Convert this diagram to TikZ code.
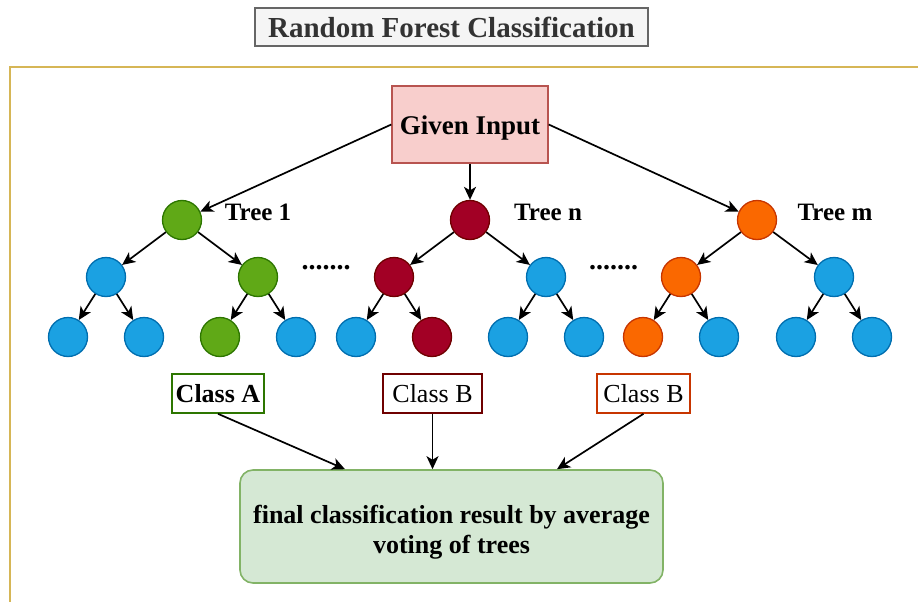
\documentclass[tikz,border=0pt]{standalone}
\usepackage{fontspec}
\setmainfont{Liberation Serif}
\usetikzlibrary{positioning,calc,arrows.meta}
\definecolor{leafblue}{HTML}{1BA1E2}
\definecolor{leafblueb}{HTML}{006EAF}
\definecolor{treegreen}{HTML}{60A917}
\definecolor{treegreenb}{HTML}{2D7600}
\definecolor{treered}{HTML}{A20025}
\definecolor{treeredb}{HTML}{6F0000}
\definecolor{treeorange}{HTML}{FA6800}
\definecolor{treeorangeb}{HTML}{C73500}
\definecolor{inputfill}{HTML}{F8CECC}
\definecolor{inputdraw}{HTML}{B85450}
\definecolor{resultfill}{HTML}{D5E8D4}
\definecolor{resultdraw}{HTML}{82B366}
\definecolor{framecol}{HTML}{D6B656}
\tikzset{
  vertex/.style={circle, draw, line width=1.3pt, minimum size=39pt, inner sep=0pt},
  bluev/.style={vertex, fill=leafblue, draw=leafblueb},
  greenv/.style={vertex, fill=treegreen, draw=treegreenb},
  redv/.style={vertex, fill=treered, draw=treeredb},
  orangev/.style={vertex, fill=treeorange, draw=treeorangeb},
  link/.style={line width=1.7pt, -{Stealth[length=13pt,width=12pt,inset=3.5pt]}},
  treelabel/.style={font=\bfseries\fontsize{25}{29}\selectfont},
  classbox/.style={draw, rectangle, fill=white, line width=1.6pt, minimum height=39pt, inner sep=0pt, font=\fontsize{26}{30}\selectfont}
}
\begin{document}
\begin{tikzpicture}[x=1pt,y=1pt]
\useasboundingbox (0,0) rectangle (918,-602);
\draw [framecol, line width=1.6pt](10,-602)--(10,-67)--(918,-67);
\node (title)[draw=black!60, fill=black!4, line width=1.4pt, rectangle, minimum width=393pt, minimum height=38pt, inner sep=0pt, font=\bfseries\fontsize{29}{33}\selectfont, text=black!80] at (451.5,-27) {Random Forest Classification};
\node (input)[draw=inputdraw, fill=inputfill, line width=1.4pt, rectangle, minimum width=156pt, minimum height=77pt, inner sep=0pt, font=\bfseries\fontsize{27}{31}\selectfont] at (470,-124.5) {\rule{0pt}{25pt}Given Input};

% tree 1
\node (tn)[redv, on grid, below=95.5pt of input]{};
\node (t1)[greenv, on grid, left=288pt of tn]{};
\node (tm)[orangev, on grid, right=287pt of tn]{};
\node (t1l)[bluev, on grid, below left=57pt and 76pt of t1]{};
\node (t1r)[greenv, on grid, below right=57pt and 76pt of t1]{};
\node (t1ll)[bluev, on grid, below left=60pt and 38pt of t1l]{};
\node (t1lr)[bluev, on grid, below right=60pt and 38pt of t1l]{};
\node (t1rl)[greenv, on grid, below left=60pt and 38pt of t1r]{};
\node (t1rr)[bluev, on grid, below right=60pt and 38pt of t1r]{};
% tree n
\node (tnl)[redv, on grid, below left=57pt and 76pt of tn]{};
\node (tnr)[bluev, on grid, below right=57pt and 76pt of tn]{};
\node (tnll)[bluev, on grid, below left=60pt and 38pt of tnl]{};
\node (tnlr)[redv, on grid, below right=60pt and 38pt of tnl]{};
\node (tnrl)[bluev, on grid, below left=60pt and 38pt of tnr]{};
\node (tnrr)[bluev, on grid, below right=60pt and 38pt of tnr]{};
% tree m
\node (tml)[orangev, on grid, below left=57pt and 76pt of tm]{};
\node (tmr)[bluev, on grid, below right=57pt and 77pt of tm]{};
\node (tmll)[orangev, on grid, below left=60pt and 38pt of tml]{};
\node (tmlr)[bluev, on grid, below right=60pt and 38pt of tml]{};
\node (tmrl)[bluev, on grid, below left=60pt and 38pt of tmr]{};
\node (tmrr)[bluev, on grid, below right=60pt and 38pt of tmr]{};

\node (lab1)[treelabel, on grid, above right=8pt and 76pt of t1]{Tree 1};
\node (labn)[treelabel, on grid, above right=8pt and 78pt of tn]{Tree n};
\node (labm)[treelabel, on grid, above right=8pt and 78pt of tm]{Tree m};
\node (dots1)[anchor=base, font=\bfseries\fontsize{28}{30}\selectfont] at ($(t1r)!0.5!(tnl)+(0,8)$) {.......};
\node (dots2)[anchor=base, font=\bfseries\fontsize{28}{30}\selectfont] at ($(tnr)!0.5!(tml)+(0,8)$) {.......};

\draw [link](input.west)--(t1);
\draw [link](input.south)--(tn);
\draw [link](input.east)--(tm);
\draw [link](t1)--(t1l);
\draw [link](t1)--(t1r);
\draw [link](t1l)--(t1ll);
\draw [link](t1l)--(t1lr);
\draw [link](t1r)--(t1rl);
\draw [link](t1r)--(t1rr);
\draw [link](tn)--(tnl);
\draw [link](tn)--(tnr);
\draw [link](tnl)--(tnll);
\draw [link](tnl)--(tnlr);
\draw [link](tnr)--(tnrl);
\draw [link](tnr)--(tnrr);
\draw [link](tm)--(tml);
\draw [link](tm)--(tmr);
\draw [link](tml)--(tmll);
\draw [link](tml)--(tmlr);
\draw [link](tmr)--(tmrl);
\draw [link](tmr)--(tmrr);

\node (classa)[classbox, draw=treegreenb, minimum width=92pt, font=\bfseries\fontsize{26}{30}\selectfont] at (218,-393.5) {Class A};
\node (classn)[classbox, draw=treeredb, minimum width=99pt] at (432.5,-393.5) {Class B};
\node (classm)[classbox, draw=treeorangeb, minimum width=93pt] at (643.5,-393.5) {Class B};

\node (result)[draw=resultdraw, fill=resultfill, line width=1.6pt, rectangle, rounded corners=13pt, minimum width=423pt, minimum height=113pt, align=center, font=\bfseries\fontsize{26}{30}\selectfont] at (451.5,-526.5) {\rule{0pt}{29pt}final classification result by average\\voting of trees};
\coordinate (ina) at ($(result.north)+(-106.5,0)$);
\coordinate (inm) at ($(result.north)+(105.5,0)$);
\draw [link](classa.south)--(ina);
\draw [link](classn.south)--(classn.south |- result.north);
\draw [link](classm.south)--(inm);
\end{tikzpicture}
\end{document}
